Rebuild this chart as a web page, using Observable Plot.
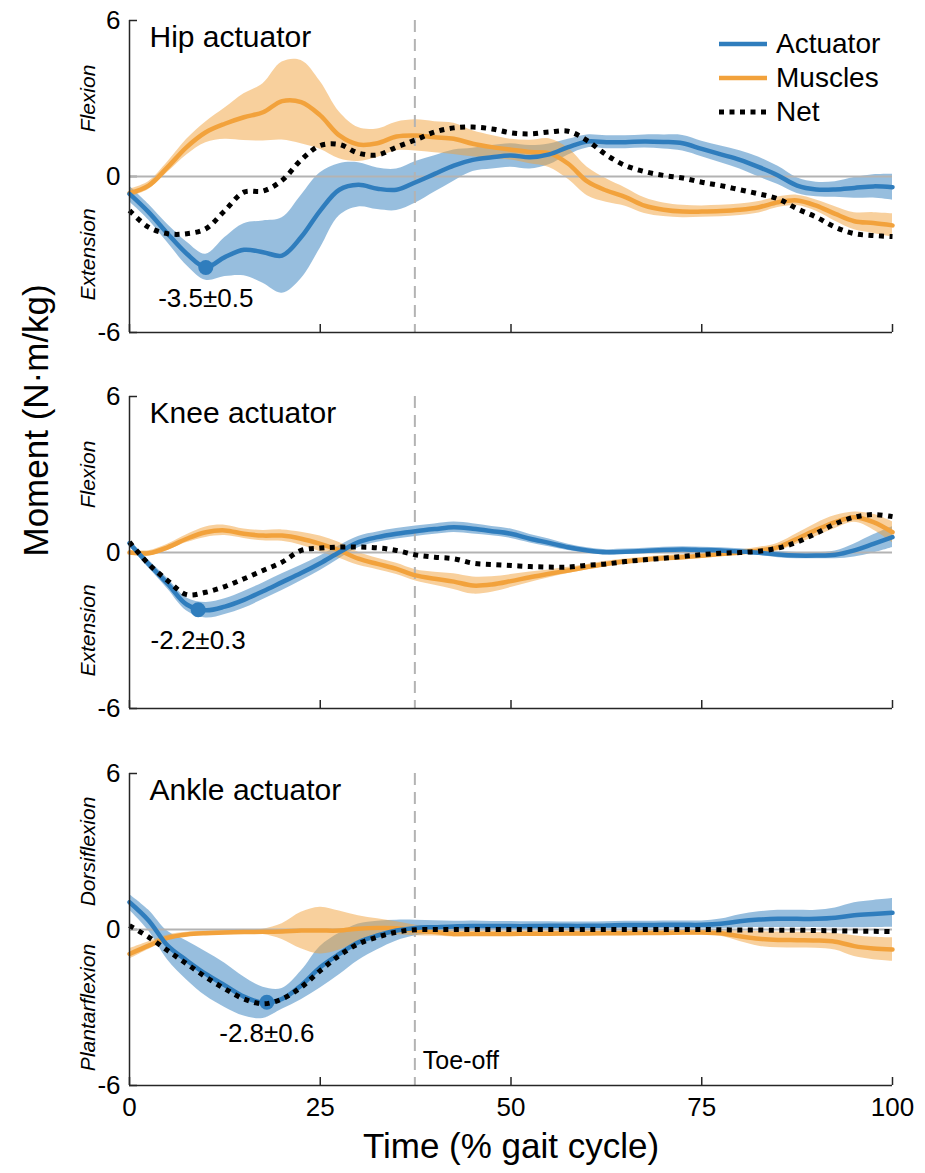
<!DOCTYPE html>
<html>
<head>
<meta charset="utf-8">
<script src="https://cdn.jsdelivr.net/npm/d3@7"></script>
<script src="https://cdn.jsdelivr.net/npm/@observablehq/plot@0.6"></script>
<style>
  body { margin: 0; background: #fff; }
  #chart { position: relative; width: 925px; height: 1173px; font-family: "Liberation Sans", Arial, sans-serif; color: #000; }
  #chart svg { display: block; overflow: visible; }
  #legend { position: absolute; left: 719px; top: 27px; font-size: 28px; color: #000; }
  #legend .row { display: flex; align-items: center; height: 34px; }
  #legend .row span { margin-left: 9px; line-height: 1; }
</style>
</head>
<body>
<div id="chart"></div>
<script>
// ---------- data ----------
const time = [0,2.5,5,7.5,10,12.5,15,17.5,20,22.5,25,27.5,30,32.5,35,37.5,40,42.5,45,47.5,50,52.5,55,57.5,60,62.5,65,67.5,70,72.5,75,77.5,80,82.5,85,87.5,90,92.5,95,97.5,100];

const hipActuator   = [-0.67,-1.37,-2.2,-2.97,-3.49,-3.1,-2.82,-2.91,-3.04,-2.33,-1.31,-0.51,-0.32,-0.47,-0.51,-0.22,0.1,0.42,0.64,0.74,0.81,0.74,0.85,1.13,1.35,1.32,1.32,1.35,1.33,1.28,1.06,0.85,0.64,0.36,0.04,-0.35,-0.5,-0.5,-0.44,-0.38,-0.41];
const hipActuatorSD = [0.3,0.3,0.35,0.45,0.5,0.75,1.0,1.2,1.45,1.6,1.45,1.0,0.85,0.8,0.8,0.8,0.7,0.6,0.45,0.45,0.45,0.45,0.4,0.3,0.25,0.25,0.25,0.25,0.27,0.3,0.3,0.32,0.35,0.38,0.35,0.3,0.28,0.3,0.4,0.45,0.5];
const hipMuscles    = [-0.64,-0.35,0.36,1.13,1.7,2.03,2.28,2.47,2.9,2.86,2.35,1.58,1.23,1.28,1.54,1.58,1.51,1.45,1.26,1.13,1.03,0.94,0.9,0.49,-0.19,-0.54,-0.79,-1.12,-1.28,-1.35,-1.35,-1.33,-1.28,-1.18,-0.99,-0.92,-1.12,-1.44,-1.72,-1.79,-1.88];
const hipMusclesSD  = [0.15,0.15,0.2,0.3,0.4,0.6,0.9,1.1,1.5,1.6,1.3,0.9,0.65,0.55,0.55,0.6,0.6,0.6,0.5,0.45,0.4,0.45,0.55,0.6,0.55,0.45,0.35,0.3,0.26,0.24,0.22,0.22,0.22,0.22,0.2,0.2,0.22,0.28,0.33,0.4,0.45];
const hipNet        = [-1.31,-1.95,-2.2,-2.2,-2.01,-1.31,-0.6,-0.56,-0.15,0.64,1.19,1.23,0.9,0.83,1.13,1.41,1.71,1.87,1.9,1.83,1.68,1.64,1.71,1.74,1.38,0.83,0.42,0.19,0.04,-0.06,-0.22,-0.35,-0.51,-0.67,-0.86,-1.24,-1.56,-1.95,-2.2,-2.27,-2.31];

const kneeActuator   = [0.36,-0.44,-1.2,-2.0,-2.22,-2.08,-1.82,-1.49,-1.14,-0.79,-0.41,0.01,0.4,0.59,0.72,0.82,0.9,0.97,0.91,0.82,0.72,0.53,0.37,0.2,0.08,0.01,0.03,0.06,0.1,0.12,0.1,0.08,0.04,-0.01,-0.08,-0.12,-0.12,-0.09,0.08,0.33,0.59];
const kneeActuatorSD = [0.1,0.15,0.2,0.25,0.3,0.3,0.32,0.32,0.32,0.3,0.28,0.25,0.22,0.2,0.2,0.2,0.2,0.2,0.2,0.18,0.18,0.16,0.15,0.12,0.1,0.1,0.1,0.1,0.1,0.1,0.1,0.1,0.1,0.1,0.12,0.12,0.12,0.15,0.25,0.35,0.4];
const kneeMuscles    = [0,-0.03,0.2,0.53,0.78,0.85,0.72,0.65,0.65,0.53,0.33,0.08,-0.24,-0.44,-0.63,-0.88,-1.01,-1.12,-1.27,-1.23,-1.1,-0.95,-0.82,-0.69,-0.56,-0.44,-0.35,-0.28,-0.22,-0.18,-0.13,-0.06,0,0.08,0.21,0.53,0.87,1.17,1.36,1.17,0.78];
const kneeMusclesSD  = [0.08,0.1,0.12,0.15,0.2,0.2,0.18,0.2,0.22,0.25,0.3,0.3,0.25,0.22,0.22,0.22,0.25,0.3,0.33,0.3,0.25,0.2,0.15,0.12,0.1,0.1,0.1,0.1,0.1,0.1,0.1,0.1,0.1,0.12,0.15,0.2,0.25,0.25,0.2,0.3,0.4];
const kneeNet        = [0.4,-0.44,-1.08,-1.62,-1.53,-1.31,-1.01,-0.69,-0.37,0.08,0.17,0.21,0.21,0.18,0.08,-0.09,-0.18,-0.24,-0.41,-0.46,-0.5,-0.54,-0.56,-0.56,-0.49,-0.44,-0.35,-0.28,-0.22,-0.15,-0.08,-0.03,0,0.05,0.17,0.4,0.74,1.1,1.36,1.46,1.38];

const ankleActuator   = [1.05,0.35,-0.62,-1.19,-1.71,-2.15,-2.58,-2.82,-2.67,-2.15,-1.45,-0.94,-0.49,-0.23,-0.04,0.06,0.09,0.12,0.13,0.13,0.13,0.13,0.14,0.14,0.14,0.15,0.17,0.17,0.18,0.18,0.18,0.22,0.32,0.38,0.41,0.41,0.41,0.45,0.55,0.6,0.64];
const ankleActuatorSD = [0.3,0.4,0.55,0.75,0.85,0.85,0.75,0.6,0.4,0.55,0.8,0.8,0.7,0.55,0.4,0.3,0.25,0.2,0.2,0.18,0.18,0.17,0.16,0.15,0.15,0.15,0.15,0.15,0.15,0.15,0.15,0.18,0.25,0.3,0.33,0.33,0.33,0.38,0.48,0.52,0.55];
const ankleMuscles    = [-0.94,-0.62,-0.32,-0.19,-0.14,-0.12,-0.1,-0.09,-0.08,-0.04,-0.04,-0.04,0.03,0.06,0.05,-0.04,-0.1,-0.17,-0.17,-0.17,-0.17,-0.16,-0.16,-0.15,-0.15,-0.14,-0.14,-0.13,-0.13,-0.12,-0.12,-0.14,-0.26,-0.36,-0.4,-0.41,-0.42,-0.47,-0.64,-0.73,-0.77];
const ankleMusclesSD  = [0.2,0.15,0.1,0.08,0.08,0.08,0.08,0.1,0.3,0.7,0.9,0.75,0.5,0.35,0.25,0.2,0.15,0.12,0.1,0.1,0.1,0.1,0.1,0.1,0.1,0.1,0.1,0.1,0.1,0.1,0.1,0.12,0.2,0.28,0.3,0.3,0.3,0.32,0.4,0.43,0.45];
const ankleNet        = [0.15,-0.29,-0.81,-1.32,-1.83,-2.28,-2.67,-2.86,-2.67,-2.22,-1.58,-1.0,-0.55,-0.29,-0.1,-0.01,0,0,0,0,0,0,0,0,0,0,0,0,0,0,0,-0.01,-0.02,-0.02,-0.03,-0.03,-0.04,-0.05,-0.06,-0.07,-0.08];

const panelTitles  = ["Hip actuator", "Knee actuator", "Ankle actuator"];
const upperLabels  = ["Flexion", "Flexion", "Dorsiflexion"];
const lowerLabels  = ["Extension", "Extension", "Plantarflexion"];
const peakTime     = [10, 9, 18];
const peakValue    = [-3.5, -2.2, -2.8];
const peakSD       = [0.5, 0.3, 0.6];
const toeOff       = 37.4;
const toeOffLabel  = "Toe-off";
const xTicks       = [0, 25, 50, 75, 100];
const yTicks       = [-6, 0, 6];
const legendNames  = ["Actuator", "Muscles", "Net"];
const yAxisLabel   = "Moment (N·m/kg)";
const xAxisLabel   = "Time (% gait cycle)";

// ---------- styling ----------
const BLUE = "#2f7dbd", ORANGE = "#f2a23c", NET = "#000", AXIS = "#262626", GUIDE = "#b3b3b3";
const FONT = "'Liberation Sans', Arial, sans-serif";
const W = 925, ML = 129, MR = 33, FH = 312;
const FW = W - ML - MR;
const CURVE = "catmull-rom";
const DOTS = "5,5.5";

const series = [
  {act: hipActuator, actSD: hipActuatorSD, mus: hipMuscles, musSD: hipMusclesSD, net: hipNet},
  {act: kneeActuator, actSD: kneeActuatorSD, mus: kneeMuscles, musSD: kneeMusclesSD, net: kneeNet},
  {act: ankleActuator, actSD: ankleActuatorSD, mus: ankleMuscles, musSD: ankleMusclesSD, net: ankleNet}
];
const layout = [
  {height: 376, mt: 20, mb: 44},
  {height: 376, mt: 20, mb: 44},
  {height: 421, mt: 21, mb: 88}
];

function panel(i) {
  const s = series[i], L = layout[i];
  const data = time.map((t, k) => ({t, a: s.act[k], asd: s.actSD[k], m: s.mus[k], msd: s.musSD[k], n: s.net[k]}));
  const peak = [{t: peakTime[i], v: peakValue[i], label: `${peakValue[i]}±${peakSD[i]}`}];
  const dirs = [{v: 3, label: upperLabels[i]}, {v: -3, label: lowerLabels[i]}];
  const bottom = i === 2;
  const marks = [
    Plot.tickX(xTicks, {x: d => d, insetTop: FH - 8, stroke: AXIS, strokeWidth: 1.5}),
    Plot.tickY(yTicks, {y: d => d, insetRight: FW - 8, stroke: AXIS, strokeWidth: 1.5}),
    Plot.areaY(data, {x: "t", y1: d => d.a - d.asd, y2: d => d.a + d.asd, fill: BLUE, fillOpacity: 0.5, curve: CURVE}),
    Plot.areaY(data, {x: "t", y1: d => d.m - d.msd, y2: d => d.m + d.msd, fill: ORANGE, fillOpacity: 0.5, curve: CURVE}),
    Plot.ruleY([0], {stroke: GUIDE, strokeWidth: 2}),
    Plot.ruleX([toeOff], {stroke: GUIDE, strokeWidth: 2, strokeDasharray: "12,7"}),
    Plot.lineY(data, {x: "t", y: "m", stroke: ORANGE, strokeWidth: 4.5, curve: CURVE}),
    Plot.lineY(data, {x: "t", y: "a", stroke: BLUE, strokeWidth: 4.5, curve: CURVE}),
    Plot.dot(peak, {x: "t", y: "v", r: 7.5, fill: BLUE}),
    Plot.lineY(data, {x: "t", y: "n", stroke: NET, strokeWidth: 5, strokeDasharray: DOTS, strokeLinecap: "butt", curve: CURVE}),
    Plot.text(peak, {x: "t", y: "v", text: "label", dy: 31, fontSize: 26, fill: "#000"}),
    Plot.ruleX([0], {stroke: AXIS, strokeWidth: 1.5}),
    Plot.ruleY([-6], {stroke: AXIS, strokeWidth: 1.5}),
    Plot.axisY({ticks: yTicks, tickSize: 0, tickPadding: 9, fontSize: 26, tickFormat: d => String(d), label: null}),
    Plot.text(dirs, {x: () => 0, y: "v", text: "label", rotate: -90, dx: -41, fontStyle: "italic", fontSize: 21, fill: "#000"}),
    Plot.text([panelTitles[i]], {frameAnchor: "top-left", dx: 20, dy: 5, lineAnchor: "top", textAnchor: "start", fontSize: 30, fill: "#000"})
  ];
  if (i === 1) {
    marks.push(Plot.text([yAxisLabel], {frameAnchor: "left", dx: -93, dy: 4, rotate: -90, fontSize: 35, fill: "#000"}));
  }
  if (bottom) {
    marks.push(
      Plot.text([toeOffLabel], {x: () => toeOff, y: () => -6, dx: 8, dy: -25, textAnchor: "start", fontSize: 25, fill: "#000"}),
      Plot.axisX({ticks: xTicks, tickSize: 0, tickPadding: 12, fontSize: 26, tickFormat: d => String(d), label: null}),
      Plot.text([xAxisLabel], {frameAnchor: "bottom", dy: 72, fontSize: 35, fill: "#000"})
    );
  }
  return Plot.plot({
    width: W, height: L.height,
    marginLeft: ML, marginRight: MR, marginTop: L.mt, marginBottom: L.mb,
    x: bottom ? {domain: [0, 100]} : {domain: [0, 100], axis: null},
    y: {domain: [-6, 6]},
    style: {fontFamily: FONT, color: "#000", background: "transparent", overflow: "visible"},
    marks
  });
}

const chart = document.getElementById("chart");
for (let i = 0; i < 3; i++) chart.appendChild(panel(i));

// legend
const legend = document.createElement("div");
legend.id = "legend";
const swatch = [
  {stroke: BLUE, dash: null},
  {stroke: ORANGE, dash: null},
  {stroke: NET, dash: DOTS}
];
legendNames.forEach((name, k) => {
  const row = document.createElement("div");
  row.className = "row";
  const sw = swatch[k];
  row.innerHTML = `<svg width="48" height="10" style="overflow:visible"><line x1="0" x2="48" y1="5" y2="5" stroke="${sw.stroke}" stroke-width="${sw.dash ? 5 : 4.5}" ${sw.dash ? `stroke-dasharray="${sw.dash}"` : ""}/></svg><span>${name}</span>`;
  legend.appendChild(row);
});
chart.appendChild(legend);
</script>
</body>
</html>
